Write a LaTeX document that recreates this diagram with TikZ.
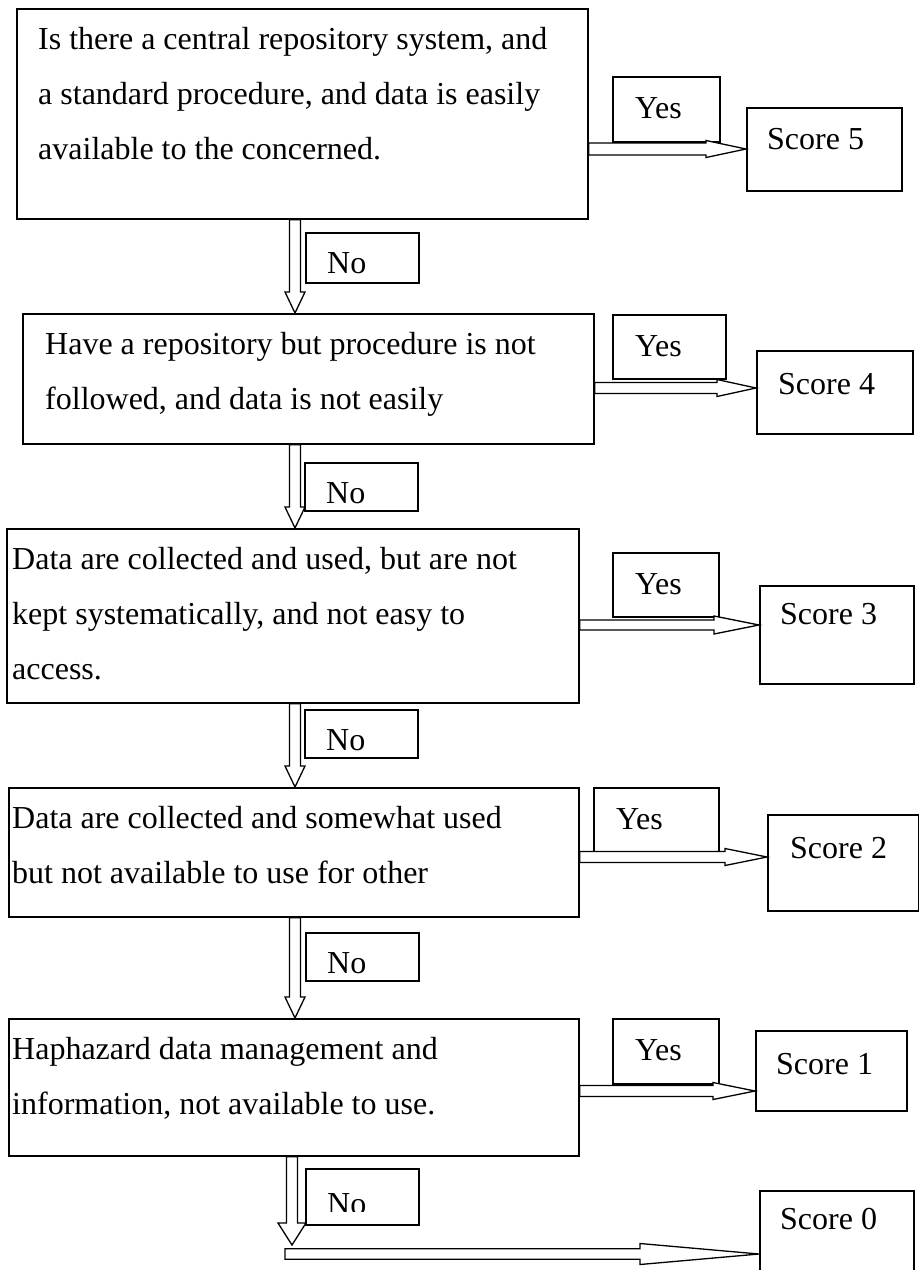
\documentclass[tikz,border=0pt]{standalone}
\usepackage{fontspec}
\setmainfont{Liberation Serif}
\usetikzlibrary{calc}

% outline of a hollow block arrow pointing right, from #1 to the tip #2
% #3 head length, #4 half width of the head, #5 half width of the shaft
\newcommand\hblock[5]{%
  \draw[blk] let \p1=(#1), \p2=(#2) in
    (\x1,\y2+#5pt) -- (\x2-#3pt,\y2+#5pt) -- (\x2-#3pt,\y2+#4pt) -- (\x2,\y2)
    -- (\x2-#3pt,\y2-#4pt) -- (\x2-#3pt,\y2-#5pt) -- (\x1,\y2-#5pt) -- cycle;}
% same, pointing down
\newcommand\vblock[5]{%
  \draw[blk] let \p1=(#1), \p2=(#2) in
    (\x2-#5pt,\y1) -- (\x2-#5pt,\y2+#3pt) -- (\x2-#4pt,\y2+#3pt) -- (\x2,\y2)
    -- (\x2+#4pt,\y2+#3pt) -- (\x2+#5pt,\y2+#3pt) -- (\x2+#5pt,\y1) -- cycle;}

\tikzset{
  box/.style={draw, line width=1.6pt, rectangle, inner sep=0pt, anchor=north west},
  blk/.style={draw, line width=1.3pt, fill=white, line join=miter},
  txt/.style={inner sep=0pt, anchor=base west, font=\fontsize{32}{55}\selectfont},
}

\newcommand\lines[1]{\parbox[t]{700pt}{\fontsize{32}{55}\selectfont #1}}

\begin{document}
\begin{tikzpicture}[x=1pt, y=-1pt]
  \useasboundingbox (0,0) rectangle (919,1270);
  \clip (0,0) rectangle (919,1270);

  % question boxes
  \node[box, minimum width=571, minimum height=210] (q1) at (16,8) {};
  \node[box, minimum width=571, minimum height=130] (q2) at (22,313) {};
  \node[box, minimum width=572, minimum height=174] (q3) at (6,528) {};
  \node[box, minimum width=570, minimum height=129] (q4) at (8,787) {};
  \node[box, minimum width=570, minimum height=137] (q5) at (8,1018) {};

  \node[txt] (t1) at ([shift={(22,41)}]q1.north west) {\lines{Is there a central repository system, and\\a standard procedure, and data is easily\\available to the concerned.}};
  \node[txt] (t2) at ([shift={(23,41)}]q2.north west) {\lines{Have a repository but procedure is not\\followed, and data is not easily}};
  \node[txt] (t3) at ([shift={(6,41)}]q3.north west) {\lines{Data are collected and used, but are not\\kept systematically, and not easy to\\access.}};
  \node[txt] (t4) at ([shift={(4,41)}]q4.north west) {\lines{Data are collected and somewhat used\\but not available to use for other}};
  \node[txt] (t5) at ([shift={(4,41)}]q5.north west) {\lines{Haphazard data management and\\information, not available to use.}};

  % score boxes
  \node[box, minimum width=155, minimum height=83] (s5) at (746,107) {};
  \node[box, minimum width=156, minimum height=83] (s4) at (756,350) {};
  \node[box, minimum width=154, minimum height=98] (s3) at (759,585) {};
  \node[box, minimum width=151, minimum height=96] (s2) at (767,814) {};
  \node[box, minimum width=151, minimum height=80] (s1) at (755,1030) {};
  \node[box, minimum width=154, minimum height=90] (s0) at (759,1190) {};

  \node[txt] (u5) at ([shift={(21,42)}]s5.north west) {Score 5};
  \node[txt] (u4) at ([shift={(22,44)}]s4.north west) {Score 4};
  \node[txt] (u3) at ([shift={(21,39)}]s3.north west) {Score 3};
  \node[txt] (u2) at ([shift={(23,44)}]s2.north west) {Score 2};
  \node[txt] (u1) at ([shift={(21,44)}]s1.north west) {Score 1};
  \node[txt] (u0) at ([shift={(21,39)}]s0.north west) {Score 0};

  % "Yes" boxes
  \node[box, minimum width=107, minimum height=65] (y1) at (612,76) {};
  \node[box, minimum width=113, minimum height=64] (y2) at (612,314) {};
  \node[box, minimum width=106, minimum height=64] (y3) at (612,552) {};
  \node[box, minimum width=125, minimum height=65] (y4) at (593,787) {};
  \node[box, minimum width=106, minimum height=65] (y5) at (612,1018) {};
  \foreach \k in {1,...,5}
    \node[txt] (yt\k) at ([shift={(23,42)}]y\k.north west) {Yes};

  % "No" boxes
  \node[box, minimum width=113, minimum height=50] (n1) at (305,232) {};
  \node[box, minimum width=113, minimum height=48] (n2) at (304,462) {};
  \node[box, minimum width=113, minimum height=48] (n3) at (304,709) {};
  \node[box, minimum width=113, minimum height=48] (n4) at (305,932) {};
  \node[box, minimum width=113, minimum height=56] (n5) at (305,1168) {};
  \foreach \k in {1,...,4}
    \node[txt] (nt\k) at ([shift={(22,41)}]n\k.north west) {No};
  \begin{scope}
    \clip (n5.north west) rectangle ([yshift=-43pt]n5.north east);
    \node[txt] (nt5) at ([shift={(22,46)}]n5.north west) {No};
  \end{scope}

  % "Yes" connectors
  \hblock{q1.east |- 0,149}{s5.west |- 0,149}{40}{8.5}{6}
  \hblock{q2.east |- 0,388}{s4.west |- 0,388}{39}{8.5}{5.5}
  \hblock{q3.east |- 0,625}{s3.west |- 0,625}{45}{9}{5}
  \hblock{q4.east |- 0,857}{s2.west |- 0,857}{42}{8.5}{5.5}
  \hblock{q5.east |- 0,1091}{s1.west |- 0,1091}{42}{8.5}{5.5}

  % "No" connectors
  \vblock{q1.south -| 295,0}{q2.north -| 295,0}{21}{10}{5.5}
  \vblock{q2.south -| 295,0}{q3.north -| 295,0}{21}{10}{5.5}
  \vblock{q3.south -| 295,0}{q4.north -| 295,0}{21}{10}{5.5}
  \vblock{q4.south -| 295,0}{q5.north -| 295,0}{21}{10}{5.5}
  \coordinate (d5) at (292,1245);
  \coordinate (d0) at (285,1254);
  \hblock{d0}{s0.west |- d0}{119}{10.5}{5.25}
  \vblock{q5.south -| d5}{d5}{22}{14}{5.5}
\end{tikzpicture}
\end{document}
